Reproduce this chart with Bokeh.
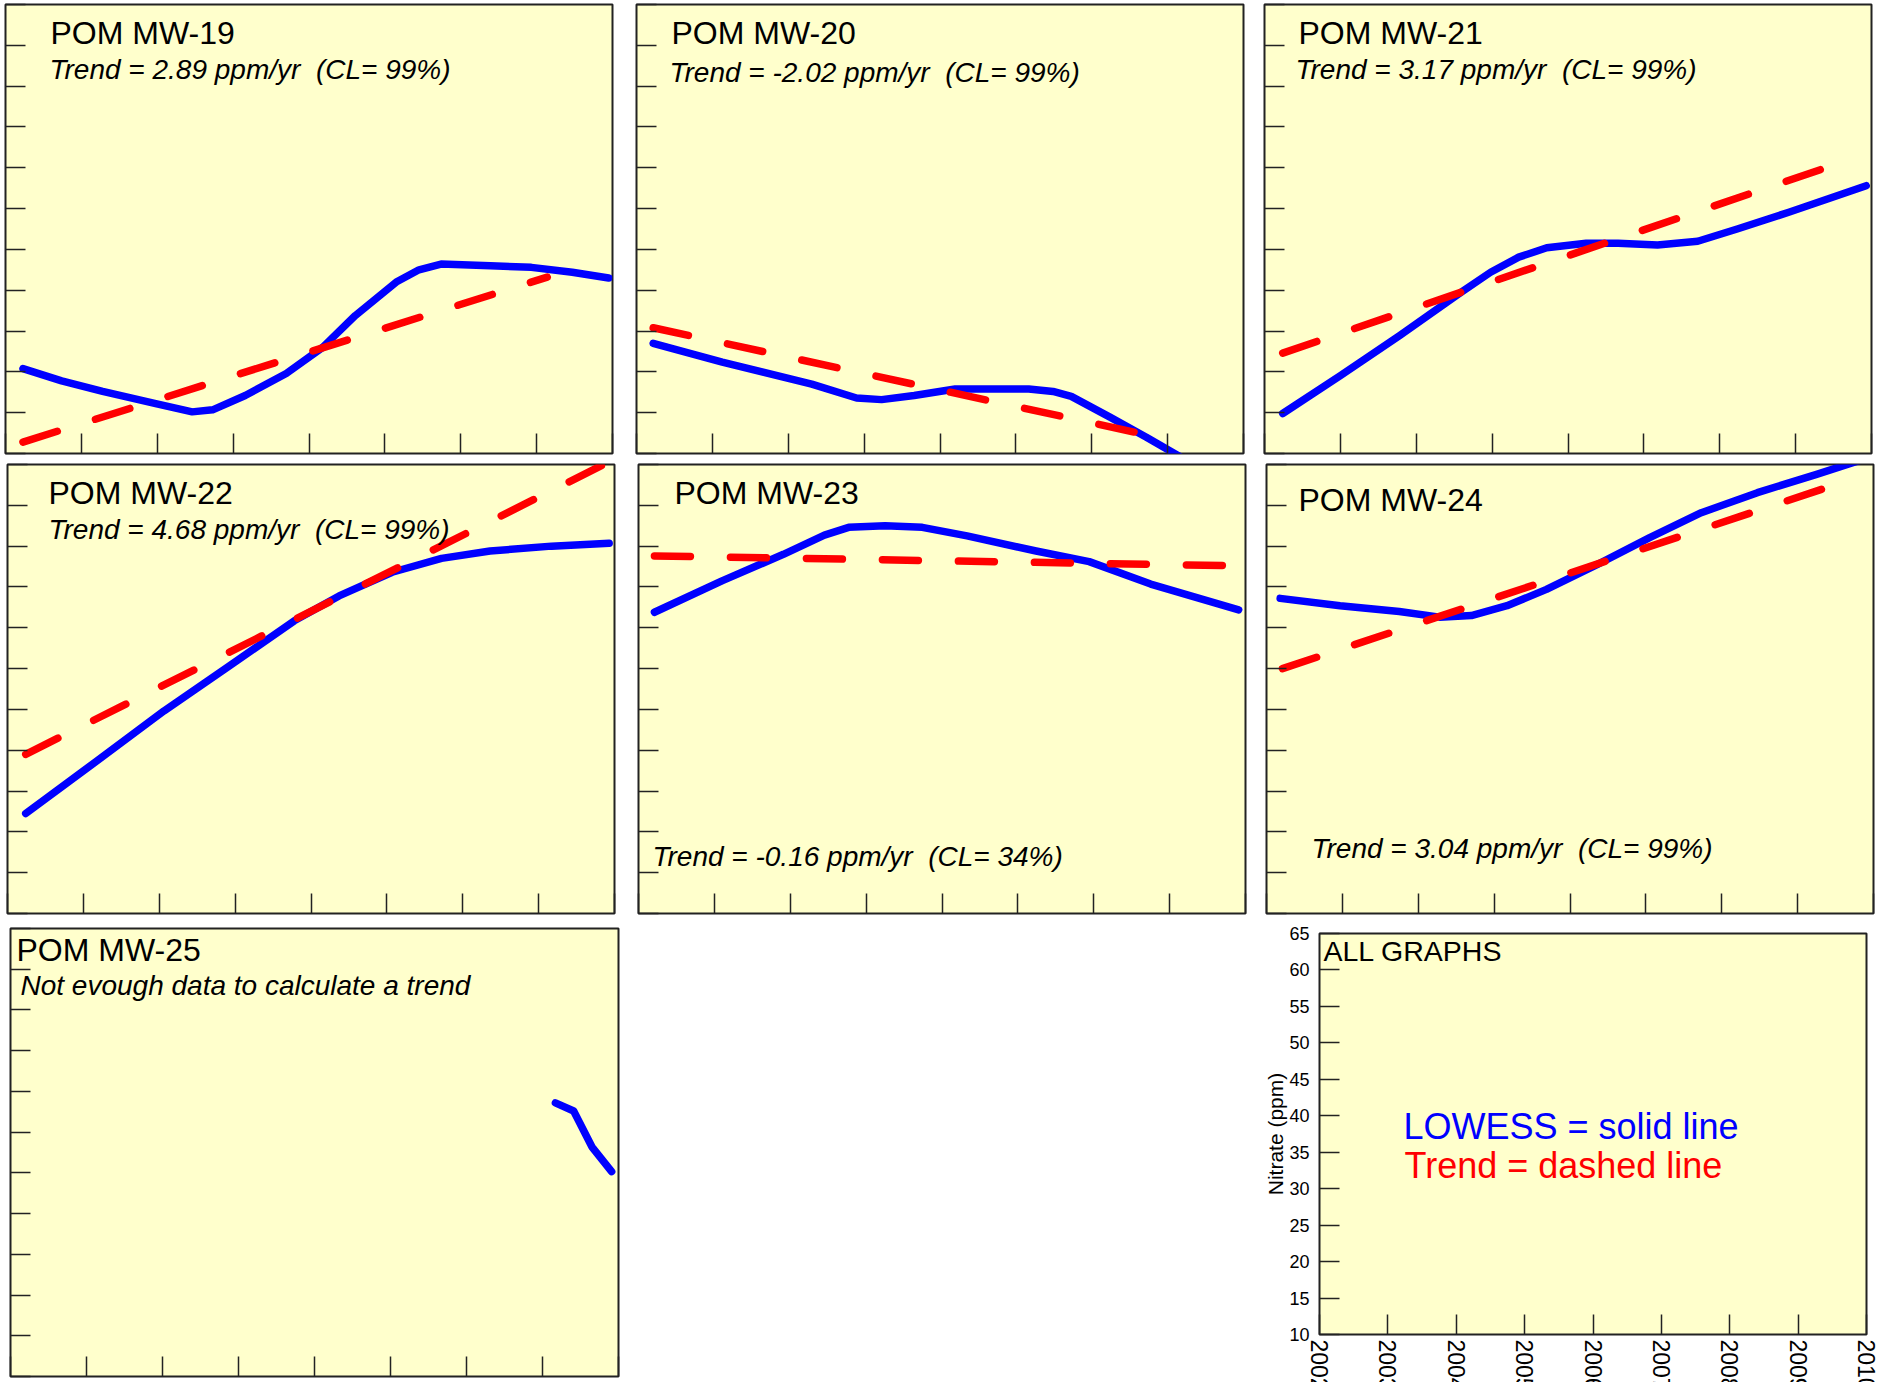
from bokeh.plotting import figure
from bokeh.models import Label, FixedTicker, CustomJSTickFormatter, Range1d
from bokeh.layouts import row, column
from bokeh.embed import file_html
from bokeh.resources import INLINE

# ---------------- data ----------------
YEAR_TICKS = [2002, 2003, 2004, 2005, 2006, 2007, 2008, 2009, 2010]
PPM_TICKS = [10, 15, 20, 25, 30, 35, 40, 45, 50, 55, 60, 65]

mw19_lowess_year = [2002.23, 2002.74, 2003.28, 2003.98, 2004.46, 2004.73, 2005.16, 2005.70, 2006.18,
                    2006.61, 2007.15, 2007.45, 2007.74, 2008.39, 2008.93, 2009.47, 2009.95]
mw19_lowess_ppm = [20.4, 18.9, 17.6, 16.1, 15.1, 15.35, 17.1, 19.8, 23.0, 26.9, 31.0, 32.5, 33.2,
                   33.0, 32.8, 32.2, 31.5]
mw19_trend_year = [2002.23, 2009.14]
mw19_trend_ppm = [11.4, 31.6]

mw20_lowess_year = [2002.22, 2003.13, 2004.31, 2004.90, 2005.23, 2005.66, 2006.20, 2007.17, 2007.49,
                    2007.73, 2008.24, 2008.72, 2009.37]
mw20_lowess_ppm = [23.5, 21.2, 18.5, 16.8, 16.6, 17.1, 17.9, 17.9, 17.6, 17.0, 14.45, 12.0, 8.5]
mw20_trend_year = [2002.22, 2008.67]
mw20_trend_ppm = [25.4, 12.4]

mw21_lowess_year = [2002.24, 2003.00, 2003.78, 2004.56, 2004.98, 2005.35, 2005.72, 2006.24, 2006.66,
                    2007.18, 2007.71, 2008.23, 2008.91, 2009.43, 2009.93]
mw21_lowess_ppm = [14.9, 19.55, 24.45, 29.55, 32.2, 34.05, 35.2, 35.75, 35.75, 35.55, 36.0, 37.5,
                   39.55, 41.2, 42.8]
mw21_trend_year = [2002.24, 2009.43]
mw21_trend_ppm = [22.3, 45.1]

mw22_lowess_year = [2002.24, 2003.15, 2004.06, 2004.92, 2005.78, 2006.37, 2007.07, 2007.72, 2008.36,
                    2009.17, 2009.93]
mw22_lowess_ppm = [22.25, 28.5, 34.8, 40.3, 45.85, 48.9, 51.8, 53.5, 54.4, 55.0, 55.35]
mw22_trend_year = [2002.24, 2009.90]
mw22_trend_ppm = [29.5, 65.2]

mw23_lowess_year = [2002.21, 2003.10, 2003.91, 2004.45, 2004.77, 2005.25, 2005.74, 2006.33, 2007.24,
                    2007.94, 2008.75, 2009.91]
mw23_lowess_ppm = [46.9, 50.75, 54.0, 56.35, 57.3, 57.5, 57.3, 56.25, 54.4, 53.1, 50.35, 47.2]
mw23_trend_year = [2002.21, 2009.85]
mw23_trend_ppm = [53.8, 52.6]

mw24_lowess_year = [2002.18, 2002.97, 2003.75, 2004.28, 2004.70, 2005.17, 2005.69, 2006.37, 2007.05,
                    2007.73, 2008.47, 2009.25, 2009.92]
mw24_lowess_ppm = [48.6, 47.7, 47.0, 46.3, 46.5, 47.7, 49.7, 52.8, 56.05, 59.1, 61.55, 63.8, 65.8]
mw24_trend_year = [2002.21, 2009.46]
mw24_trend_ppm = [40.0, 62.4]

mw25_lowess_year = [2009.17, 2009.41, 2009.65, 2009.91]
mw25_lowess_ppm = [43.6, 42.6, 38.2, 35.15]

NB = "\u00a0"
titles = ["POM MW-19", "POM MW-20", "POM MW-21", "POM MW-22", "POM MW-23", "POM MW-24", "POM MW-25"]
trend_texts = ["Trend = 2.89 ppm/yr" + NB + " (CL= 99%)", "Trend = -2.02 ppm/yr" + NB + " (CL= 99%)",
               "Trend = 3.17 ppm/yr" + NB + " (CL= 99%)", "Trend = 4.68 ppm/yr" + NB + " (CL= 99%)",
               "Trend = -0.16 ppm/yr" + NB + " (CL= 34%)", "Trend = 3.04 ppm/yr" + NB + " (CL= 99%)",
               "Not evough data to calculate a trend"]

# ---------------- styling ----------------
FONT = "Liberation Sans"
BG = "#FFFFCC"
BLUE = "#0000FF"
RED = "#FF0000"
EDGE = "#222222"
LW = 7.5


def make_panel(fw, fh, bl, br, bt, bb, labelled=False):
    p = figure(title=None, x_range=Range1d(2002, 2010), y_range=Range1d(10, 65),
               frame_width=fw, frame_height=fh,
               min_border_left=bl, min_border_right=br, min_border_top=bt, min_border_bottom=bb,
               toolbar_location=None, output_backend="svg",
               background_fill_color=BG, border_fill_color="white",
               outline_line_color=EDGE, outline_line_width=2, align="start")
    p.xgrid.visible = False
    p.ygrid.visible = False
    p.xaxis.ticker = FixedTicker(ticks=YEAR_TICKS)
    p.yaxis.ticker = FixedTicker(ticks=PPM_TICKS)
    for ax in (p.xaxis, p.yaxis):
        ax.major_tick_in = 20
        ax.major_tick_out = 0
        ax.major_tick_line_color = EDGE
        ax.major_tick_line_width = 1.5
        ax.minor_tick_line_color = None
        ax.axis_line_color = None
    if not labelled:
        for ax in (p.xaxis, p.yaxis):
            ax.formatter = CustomJSTickFormatter(code="return ''")
            ax.major_label_text_font_size = "0px"
            ax.major_label_standoff = 0
    return p


def add_curves(p, ly, lp, ty=None, tp=None):
    p.line(ly, lp, line_color=BLUE, line_width=LW, line_cap="round", line_join="round")
    if ty is not None:
        p.line(ty, tp, line_color=RED, line_width=LW, line_dash="36 40", line_cap="round")


def add_text(p, x, y, text, size, italic=False, color="black"):
    p.add_layout(Label(x=x, y=y, x_units="screen", y_units="screen", text=text,
                       text_font=FONT, text_font_size=size, text_color=color,
                       text_font_style="italic" if italic else "normal",
                       text_baseline="alphabetic", text_align="left"))


TITLE_SIZE = "32px"
TREND_SIZE = "28px"

# Row 1
p19 = make_panel(607, 449, 5, 2, 4, 7)
add_curves(p19, mw19_lowess_year, mw19_lowess_ppm, mw19_trend_year, mw19_trend_ppm)
add_text(p19, 45, 421, titles[0], TITLE_SIZE)
add_text(p19, 44, 384, trend_texts[0], TREND_SIZE, italic=True)

p20 = make_panel(607, 449, 22, 2, 4, 7)
add_curves(p20, mw20_lowess_year, mw20_lowess_ppm, mw20_trend_year, mw20_trend_ppm)
add_text(p20, 35, 421, titles[1], TITLE_SIZE)
add_text(p20, 33, 381, trend_texts[1], TREND_SIZE, italic=True)

p21 = make_panel(607, 449, 19, 2, 4, 7)
add_curves(p21, mw21_lowess_year, mw21_lowess_ppm, mw21_trend_year, mw21_trend_ppm)
add_text(p21, 34, 421, titles[2], TITLE_SIZE)
add_text(p21, 31, 384, trend_texts[2], TREND_SIZE, italic=True)

# Row 2
p22 = make_panel(607, 449, 7, 2, 4, 7)
add_curves(p22, mw22_lowess_year, mw22_lowess_ppm, mw22_trend_year, mw22_trend_ppm)
add_text(p22, 41, 421, titles[3], TITLE_SIZE)
add_text(p22, 41, 384, trend_texts[3], TREND_SIZE, italic=True)

p23 = make_panel(607, 449, 22, 2, 4, 7)
add_curves(p23, mw23_lowess_year, mw23_lowess_ppm, mw23_trend_year, mw23_trend_ppm)
add_text(p23, 36, 421, titles[4], TITLE_SIZE)
add_text(p23, 14, 57, trend_texts[4], TREND_SIZE, italic=True)

p24 = make_panel(607, 449, 19, 2, 4, 7)
add_curves(p24, mw24_lowess_year, mw24_lowess_ppm, mw24_trend_year, mw24_trend_ppm)
add_text(p24, 32, 414, titles[5], TITLE_SIZE)
add_text(p24, 45, 65, trend_texts[5], TREND_SIZE, italic=True)

# Row 3 (same top border for both; the summary panel is pushed down by an outer margin)
p25 = make_panel(608, 448, 10, 2, 8, 43)
add_curves(p25, mw25_lowess_year, mw25_lowess_ppm)
add_text(p25, 6, 427, titles[6], TITLE_SIZE)
add_text(p25, 10, 391, trend_texts[6], TREND_SIZE, italic=True)

pall = make_panel(547, 401, 699, 16, 8, 80, labelled=True)
pall.margin = (5, 0, 0, 0)
pall.yaxis.major_label_text_font = FONT
pall.yaxis.major_label_text_font_size = "18px"
pall.yaxis.major_label_text_color = "black"
pall.yaxis.major_label_standoff = 10
pall.yaxis.axis_label = "Nitrate (ppm)"
pall.yaxis.axis_label_text_font = FONT
pall.yaxis.axis_label_text_font_size = "21px"
pall.yaxis.axis_label_text_font_style = "normal"
pall.yaxis.axis_label_text_color = "black"
pall.yaxis.axis_label_standoff = -1
pall.xaxis.major_label_text_font = FONT
pall.xaxis.major_label_text_font_size = "23px"
pall.xaxis.major_label_text_color = "black"
pall.xaxis.major_label_orientation = "vertical"
pall.xaxis.major_label_standoff = 5
add_text(pall, 4, 384, "ALL GRAPHS", "28.5px")
add_text(pall, 84, 208, "LOWESS = solid line", "36px", color=BLUE)
add_text(pall, 85, 169, "Trend = dashed line", "36px", color=RED)

layout = column(row(p19, p20, p21), row(p22, p23, p24), row(p25, pall),
                margin=(0, 0, -40, 0))

open("out.html", "w").write(file_html(layout, INLINE))
